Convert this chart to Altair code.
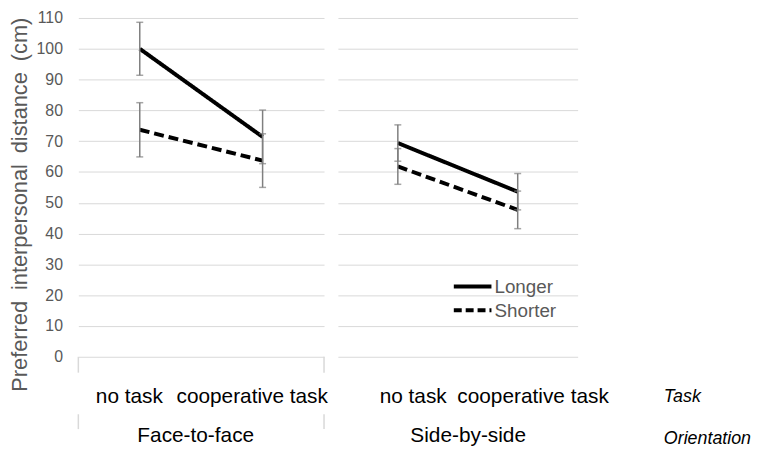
import altair as alt
import pandas as pd

# ---- data ----
orientations = ["Face-to-face", "Side-by-side"]
tasks = ["no task", "cooperative task"]
series_names = ["Longer", "Shorter"]
# order: F2F no task, F2F coop, SbS no task, SbS coop
longer_mean = [100.0, 71.4, 69.4, 53.6]
longer_err = [8.6, 8.7, 5.9, 5.9]
shorter_mean = [73.7, 63.7, 61.8, 47.7]
shorter_err = [8.8, 8.7, 5.8, 6.1]
y_ticks = [0, 10, 20, 30, 40, 50, 60, 70, 80, 90, 100, 110]
level_labels = ["Task", "Orientation"]
y_title = "Preferred\u2002interpersonal\u2002distance\u2002(cm)"

rows = []
for s, means, errs in [(series_names[0], longer_mean, longer_err),
                       (series_names[1], shorter_mean, shorter_err)]:
    i = 0
    for o in orientations:
        for t in tasks:
            rows.append({"Series": s, "Orientation": o, "Task": t,
                         "Mean": means[i], "Lo": means[i] - errs[i], "Hi": means[i] + errs[i]})
            i += 1
df = pd.DataFrame(rows)

FONT = "Liberation Sans"
GRID = "#d9d9d9"
GRAYTXT = "#595959"
H = 342

y_scale = alt.Scale(domain=[0, 110], nice=False, zero=True)


def panel(orient, width, is_left, label_offset, title_x):
    base = alt.Chart(df).transform_filter(alt.datum.Orientation == orient)
    if is_left:
        y_axis = alt.Axis(values=y_ticks, title=y_title,
                          titleFontSize=22, titleFontWeight="normal", titleColor=GRAYTXT,
                          titlePadding=5, titleY=188, titleAlign="center",
                          labelFontSize=16, labelColor=GRAYTXT,
                          labelPadding=16, ticks=False, domain=False,
                          gridColor=GRID, gridWidth=1)
    else:
        y_axis = alt.Axis(values=y_ticks, title=None, labels=False, ticks=False,
                          domain=False, gridColor=GRID, gridWidth=1)
    x_enc = alt.X("Task:N", sort=tasks,
                  scale=alt.Scale(type="point", domain=tasks, padding=0.5),
                  axis=alt.Axis(title=orient, labelAngle=0, labelFontSize=21,
                                labelColor="black", labelPadding=29, labelOffset=label_offset,
                                domain=False, ticks=False, grid=False,
                                titleFontSize=21, titleFontWeight="normal",
                                titleColor="black", titlePadding=19,
                                titleX=title_x, titleAlign="center"))
    lines = base.mark_line(color="black", strokeWidth=4, strokeCap="butt").encode(
        x=x_enc,
        y=alt.Y("Mean:Q", scale=y_scale, axis=y_axis),
        strokeDash=alt.StrokeDash("Series:N",
                                  scale=alt.Scale(domain=series_names, range=[[1, 0], [10, 5]]),
                                  legend=None),
        detail="Series:N",
    )
    errs = base.mark_errorbar(color="#7f7f7f", thickness=1.5,
                              ticks={"size": 7, "thickness": 1.5}).encode(
        x=x_enc,
        y=alt.Y("Lo:Q", scale=y_scale, axis=y_axis),
        y2="Hi:Q",
        detail="Series:N",
    )
    layers = [lines, errs]
    one = pd.DataFrame({"k": [0]})
    if is_left:
        for xv in [0, width]:
            for y1, y2 in [(H, H + 16), (H + 58, H + 73)]:
                layers.append(alt.Chart(one).mark_rule(color=GRID, strokeWidth=1.5).encode(
                    x=alt.value(xv), y=alt.value(y1), y2=alt.value(y2)))
    else:
        leg = pd.DataFrame({"Series": series_names})
        for i, (s, dash) in enumerate(zip(series_names, [[1, 0], [8, 4]])):
            yv = 271 + 24 * i
            sub = alt.Chart(leg).transform_filter(alt.datum.Series == s)
            layers.append(sub.mark_rule(color="black", strokeWidth=4, strokeDash=dash,
                                        strokeCap="butt").encode(
                x=alt.value(117), x2=alt.value(155), y=alt.value(yv)))
            layers.append(sub.mark_text(align="left", baseline="middle", fontSize=19,
                                        color=GRAYTXT, font=FONT).encode(
                x=alt.value(158), y=alt.value(yv + 1), text="Series:N"))
        lab = pd.DataFrame({"lab": level_labels})
        for i, lbl in enumerate(level_labels):
            layers.append(alt.Chart(lab).transform_filter(alt.datum.lab == lbl).mark_text(
                align="left", baseline="middle", fontSize=18, fontStyle="italic",
                color="black", font=FONT).encode(
                x=alt.value(329), y=alt.value(383 + 42 * i), text="lab:N"))
    return alt.layer(*layers).properties(width=width, height=H)


left = panel(orientations[0], 248, True, -11, 118)
right = panel(orientations[1], 242, False, 15, 131)

chart = alt.hconcat(left, right, spacing=14, bounds="flush").properties(
    padding={"left": 0, "top": 0, "right": 0, "bottom": 0}
).configure(font=FONT).configure_view(stroke=None)

chart.save("out.html", embed_options={"renderer": "svg", "actions": False})
